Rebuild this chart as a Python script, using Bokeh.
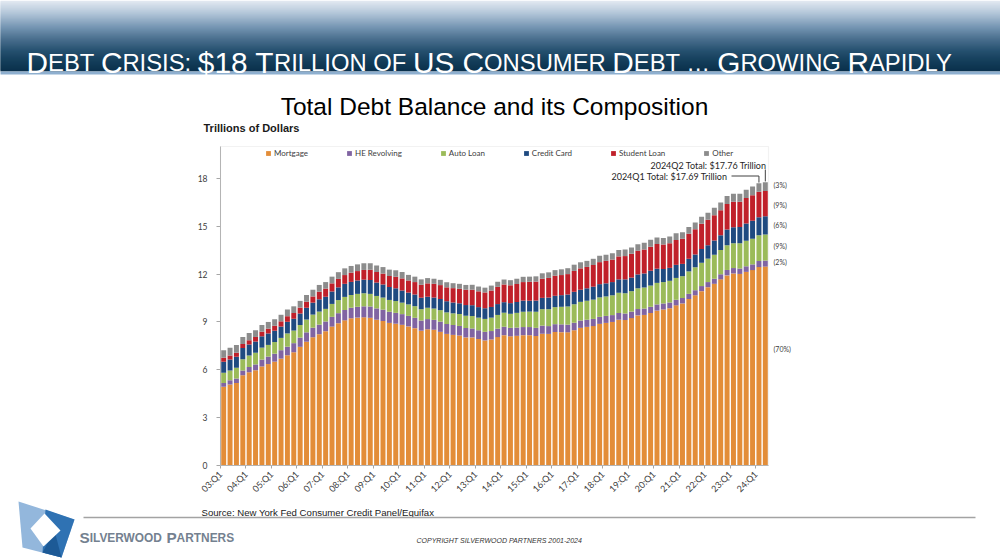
import math
from bokeh.plotting import figure
from bokeh.models import ColumnDataSource, Label, BoxAnnotation, PolyAnnotation, FixedTicker
from bokeh.embed import file_html
from bokeh.resources import INLINE

# ---------------- data (trillions of dollars) ----------------
quarters = [f"{y % 100:02d}:Q{q}" for y in range(2003, 2025) for q in range(1, 5)][:86]

mortgage = [4.94, 5.08, 5.18, 5.66, 5.84, 5.97, 6.21, 6.36, 6.51, 6.70, 6.91, 7.10,
            7.44, 7.76, 8.04, 8.23, 8.42, 8.71, 8.92, 9.10, 9.23, 9.27, 9.29, 9.26,
            9.14, 9.06, 8.94, 8.89, 8.82, 8.72, 8.61, 8.45, 8.54, 8.51, 8.38, 8.25,
            8.19, 8.15, 8.03, 8.03, 7.93, 7.84, 7.90, 8.05, 8.17, 8.10, 8.13, 8.17,
            8.17, 8.12, 8.26, 8.25, 8.37, 8.36, 8.35, 8.48, 8.63, 8.69, 8.74, 8.88,
            8.94, 9.00, 9.14, 9.12, 9.24, 9.41, 9.44, 9.56, 9.71, 9.78, 9.86, 10.04,
            10.16, 10.44, 10.67, 10.93, 11.18, 11.39, 11.67, 11.92, 12.04, 12.01, 12.14, 12.25,
            12.44, 12.47]
he_revolving = [0.24, 0.26, 0.27, 0.30, 0.33, 0.37, 0.43, 0.47, 0.50, 0.53, 0.54, 0.57,
                0.58, 0.59, 0.60, 0.60, 0.61, 0.61, 0.63, 0.65, 0.66, 0.68, 0.69, 0.71,
                0.71, 0.71, 0.70, 0.68, 0.67, 0.66, 0.65, 0.64, 0.64, 0.62, 0.64, 0.62,
                0.62, 0.60, 0.59, 0.56, 0.55, 0.54, 0.53, 0.53, 0.53, 0.53, 0.52, 0.51,
                0.51, 0.51, 0.51, 0.49, 0.49, 0.49, 0.48, 0.47, 0.46, 0.45, 0.45, 0.44,
                0.44, 0.43, 0.42, 0.41, 0.41, 0.40, 0.40, 0.39, 0.39, 0.38, 0.36, 0.35,
                0.34, 0.32, 0.32, 0.32, 0.32, 0.32, 0.32, 0.34, 0.34, 0.34, 0.35, 0.36,
                0.38, 0.38]
auto_loan = [0.64, 0.62, 0.68, 0.70, 0.72, 0.73, 0.75, 0.73, 0.73, 0.77, 0.83, 0.79,
             0.79, 0.80, 0.82, 0.82, 0.79, 0.81, 0.82, 0.82, 0.80, 0.81, 0.82, 0.79,
             0.78, 0.76, 0.74, 0.74, 0.72, 0.72, 0.73, 0.71, 0.71, 0.71, 0.72, 0.73,
             0.73, 0.75, 0.77, 0.78, 0.79, 0.81, 0.84, 0.86, 0.88, 0.88, 0.92, 0.96,
             0.97, 1.01, 1.03, 1.06, 1.07, 1.10, 1.14, 1.16, 1.17, 1.19, 1.21, 1.22,
             1.22, 1.24, 1.27, 1.27, 1.28, 1.30, 1.32, 1.33, 1.35, 1.34, 1.36, 1.37,
             1.37, 1.41, 1.44, 1.46, 1.47, 1.50, 1.52, 1.55, 1.56, 1.58, 1.60, 1.61,
             1.62, 1.63]
credit_card = [0.69, 0.69, 0.69, 0.70, 0.70, 0.70, 0.71, 0.72, 0.71, 0.71, 0.73, 0.74,
               0.72, 0.74, 0.75, 0.77, 0.76, 0.78, 0.80, 0.82, 0.82, 0.84, 0.85, 0.87,
               0.84, 0.82, 0.81, 0.80, 0.76, 0.74, 0.73, 0.72, 0.69, 0.69, 0.70, 0.70,
               0.68, 0.67, 0.67, 0.68, 0.66, 0.67, 0.67, 0.68, 0.66, 0.67, 0.68, 0.70,
               0.68, 0.70, 0.71, 0.73, 0.71, 0.73, 0.75, 0.78, 0.76, 0.78, 0.81, 0.83,
               0.82, 0.83, 0.84, 0.87, 0.85, 0.87, 0.88, 0.93, 0.89, 0.82, 0.81, 0.82,
               0.77, 0.79, 0.80, 0.86, 0.84, 0.89, 0.93, 0.99, 0.99, 1.03, 1.08, 1.13,
               1.12, 1.14]
student_loan = [0.24, 0.24, 0.25, 0.25, 0.26, 0.29, 0.29, 0.30, 0.31, 0.33, 0.35, 0.36,
                0.37, 0.38, 0.39, 0.48, 0.51, 0.51, 0.53, 0.55, 0.58, 0.59, 0.61, 0.64,
                0.66, 0.68, 0.69, 0.72, 0.76, 0.76, 0.78, 0.81, 0.84, 0.86, 0.87, 0.87,
                0.90, 0.91, 0.96, 0.97, 0.99, 0.99, 1.03, 1.08, 1.11, 1.12, 1.13, 1.16,
                1.19, 1.19, 1.20, 1.23, 1.26, 1.26, 1.28, 1.31, 1.34, 1.34, 1.36, 1.38,
                1.41, 1.41, 1.44, 1.46, 1.49, 1.48, 1.50, 1.51, 1.54, 1.54, 1.55, 1.56,
                1.58, 1.57, 1.58, 1.58, 1.59, 1.59, 1.57, 1.60, 1.60, 1.57, 1.60, 1.60,
                1.60, 1.59]
other = [0.48, 0.49, 0.48, 0.45, 0.45, 0.42, 0.42, 0.42, 0.41, 0.41, 0.42, 0.42,
         0.42, 0.42, 0.42, 0.42, 0.41, 0.42, 0.42, 0.42, 0.42, 0.42, 0.42, 0.41,
         0.41, 0.41, 0.40, 0.41, 0.40, 0.35, 0.34, 0.34, 0.33, 0.32, 0.33, 0.32,
         0.31, 0.31, 0.30, 0.31, 0.30, 0.30, 0.31, 0.32, 0.31, 0.32, 0.33, 0.33,
         0.32, 0.33, 0.34, 0.35, 0.35, 0.36, 0.37, 0.39, 0.38, 0.38, 0.39, 0.40,
         0.39, 0.40, 0.40, 0.41, 0.40, 0.41, 0.42, 0.43, 0.42, 0.41, 0.42, 0.42,
         0.41, 0.42, 0.43, 0.45, 0.44, 0.47, 0.48, 0.50, 0.50, 0.51, 0.52, 0.54,
         0.53, 0.55]

series_names = ["Mortgage", "HE Revolving", "Auto Loan", "Credit Card", "Student Loan", "Other"]
share_labels = ["(70%)", "(2%)", "(9%)", "(6%)", "(9%)", "(3%)"]
total_notes = ["2024Q1 Total: $17.69 Trillion", "2024Q2 Total: $17.76 Trillion"]
y_ticks = [0, 3, 6, 9, 12, 15, 18]

colors = ["#E38D38", "#8064A2", "#9BBB59", "#1F4A80", "#C0202A", "#8C8C8C"]

# ---------------- geometry: chart frame occupies px 220..768 x 146..465 of the slide ----------------
n = len(quarters)
Y_TOP = 20.0
PX0, PX1, PY0, PY1 = 220.0, 768.0, 146.0, 465.0
XS = (PX1 - PX0) / n
YS = (PY1 - PY0) / Y_TOP

def xd(xr):
    return (xr - PX0) / XS - 0.5

def yd(yr):
    return (PY1 - yr) / YS

W, H = 1000, 560
p = figure(width=W, height=H, x_range=(xd(0), xd(W)), y_range=(yd(H), yd(0)),
           output_backend="svg", toolbar_location=None, title=None, min_border=0,
           background_fill_color="white", border_fill_color="white")
p.outline_line_color = None
p.xgrid.visible = False
p.ygrid.visible = False

keys = ["mortgage", "he", "auto", "cc", "sl", "other"]
src = ColumnDataSource(dict(x=list(range(n)), mortgage=mortgage, he=he_revolving,
                            auto=auto_loan, cc=credit_card, sl=student_loan, other=other))
p.vbar_stack(keys, x="x", width=0.78, source=src, fill_color=colors, line_color=None,
             legend_label=series_names)

totals = [sum(v) for v in zip(mortgage, he_revolving, auto_loan, credit_card, student_loan, other)]

# plot area border
p.add_layout(BoxAnnotation(left=-0.5, right=n - 0.5, bottom=0, top=Y_TOP, fill_alpha=0,
                           line_color="#d4d4d4", line_width=1.2))

CH = "Lato"
p.yaxis.fixed_location = -0.5
p.yaxis.bounds = (0, Y_TOP)
p.yaxis.ticker = FixedTicker(ticks=y_ticks)
p.yaxis.major_tick_out = 4
p.yaxis.major_tick_in = 0
p.yaxis.minor_tick_out = 0
p.yaxis.minor_tick_in = 0
p.yaxis.axis_line_color = "#a6a6a6"
p.yaxis.major_tick_line_color = "#a6a6a6"
p.yaxis.major_label_text_font = CH
p.yaxis.major_label_text_font_size = "8.5px"
p.yaxis.major_label_text_color = "#404040"
p.yaxis.major_label_standoff = 9

# category-boundary ticks (every 4th quarter), labelled with the Q1 quarter that follows
q1_idx = list(range(0, n, 4))
x_ticks = [i - 0.5 for i in q1_idx]
p.xaxis.fixed_location = 0
p.xaxis.bounds = (-0.5, n - 0.5)
p.xaxis.ticker = FixedTicker(ticks=x_ticks)
p.xaxis.major_label_overrides = {i - 0.5: quarters[i] for i in q1_idx}
p.xaxis.major_label_orientation = math.pi / 4
p.xaxis.major_tick_out = 3
p.xaxis.major_tick_in = 0
p.xaxis.minor_tick_out = 0
p.xaxis.minor_tick_in = 0
p.xaxis.axis_line_color = "#a6a6a6"
p.xaxis.major_tick_line_color = "#a6a6a6"
p.xaxis.major_label_text_font = CH
p.xaxis.major_label_text_font_size = "9px"
p.xaxis.major_label_text_color = "#404040"
p.xaxis.major_label_standoff = 4

lg = p.legend[0]
lg.orientation = "horizontal"
lg.location = (265, 402)
lg.glyph_width = 6
lg.glyph_height = 6
lg.label_text_font = CH
lg.label_text_font_size = "8px"
lg.label_text_color = "#404040"
lg.label_standoff = 3
lg.spacing = 38
lg.padding = 0
lg.margin = 0
lg.label_height = 8
lg.border_line_alpha = 0
lg.background_fill_alpha = 0

# total callouts, with leader lines to the last two bars
p.line(x=[xd(731), n - 2, n - 2], y=[yd(175.5), yd(175.5), totals[-2] + 0.05],
       line_color="#404040", line_width=1)
p.line(x=[n - 1, n - 1], y=[yd(169), totals[-1] + 0.05], line_color="#404040", line_width=1)
p.add_layout(Label(x=xd(727), y=yd(175.5), text=total_notes[0], text_align="right",
                   text_baseline="middle", text_font=CH, text_font_size="9px", text_color="#262626"))
p.add_layout(Label(x=xd(766), y=yd(165), text=total_notes[1], text_align="right",
                   text_baseline="middle", text_font=CH, text_font_size="9px", text_color="#262626"))

# share labels to the right of the plot
share_y = [348, 261, 245, 224, 204, 184]
for t, yr in zip(share_labels, share_y):
    p.add_layout(Label(x=xd(773), y=yd(yr), text=t, text_align="left", text_baseline="middle",
                       text_font=CH, text_font_size="7px", text_color="#404040"))

# ---------------- slide decoration ----------------
def hex2rgb(h):
    return tuple(int(h[i:i + 2], 16) for i in (1, 3, 5))

def grad(yr, stops):
    for (y0, c0), (y1, c1) in zip(stops[:-1], stops[1:]):
        if y0 <= yr <= y1:
            t = (yr - y0) / (y1 - y0)
            a, b = hex2rgb(c0), hex2rgb(c1)
            return "#%02x%02x%02x" % tuple(int(round(a[k] + (b[k] - a[k]) * t)) for k in range(3))
    return stops[-1][1]

stops = [(0, "#e2e9f1"), (12, "#b3c6d9"), (26, "#7696b3"), (38, "#4a6f8e"), (50, "#25506f"),
         (60, "#143e5b"), (70, "#0a304b")]
for yr in range(0, 70):
    p.add_layout(BoxAnnotation(left=xd(-2), right=xd(W + 2), top=yd(yr), bottom=yd(yr + 2),
                               fill_color=grad(yr, stops), fill_alpha=1, line_alpha=0))
p.add_layout(BoxAnnotation(left=xd(-2), right=xd(W + 2), top=yd(71), bottom=yd(74),
                           fill_color="#8eafcf", fill_alpha=1, line_alpha=0))

AW = {" ": 278, "A": 667, "B": 667, "C": 722, "D": 722, "E": 667, "F": 611, "G": 778, "H": 722,
      "I": 278, "J": 500, "K": 667, "L": 556, "M": 833, "N": 722, "O": 778, "P": 667, "Q": 778,
      "R": 722, "S": 667, "T": 611, "U": 722, "V": 667, "W": 944, "X": 667, "Y": 667, "Z": 611,
      ":": 278, "$": 556, "1": 556, "8": 556, "\u2026": 1000, "-": 333}
AWB = dict(AW, L=611, A=722)

def small_caps(parts, x0, base, big, small, color, font="Liberation Sans", style="normal", widths=AW):
    x = x0
    for txt, is_big in parts:
        size = big if is_big else small
        p.add_layout(Label(x=xd(x), y=yd(base), text=txt, text_align="left",
                           text_baseline="alphabetic", text_font=font, text_font_style=style,
                           text_font_size=f"{size}px", text_color=color))
        x += sum(widths.get(c, 556) for c in txt) * size / 1000

header_parts = [("D", 1), ("EBT ", 0), ("C", 1), ("RISIS: ", 0), ("$18 T", 1), ("RILLION OF ", 0),
                ("US C", 1), ("ONSUMER ", 0), ("D", 1), ("EBT \u2026 ", 0), ("G", 1), ("ROWING ", 0),
                ("R", 1), ("APIDLY", 0)]
small_caps(header_parts, 26, 62, 29.8, 23.8, "white")

def text(xr, yr, s, size, color="#1a1a1a", align="left", style="normal", font="Liberation Sans"):
    p.add_layout(Label(x=xd(xr), y=yd(yr), text=s, text_align=align, text_baseline="alphabetic",
                       text_font=font, text_font_size=size, text_font_style=style, text_color=color))

text(494, 106, "Total Debt Balance and its Composition", "24.5px", "#000000", "center")
text(203, 127, "Trillions of Dollars", "11px", "#1a1a1a", style="bold")
text(201, 512, "Source: New York Fed Consumer Credit Panel/Equifax", "9.6px")
p.add_layout(BoxAnnotation(left=xd(83), right=xd(975), top=yd(516.3), bottom=yd(517.8),
                           fill_color="#a3a3a3", fill_alpha=1, line_alpha=0))

# logo
def poly(pts, col):
    p.add_layout(PolyAnnotation(xs=[xd(a) for a, b in pts], ys=[yd(b) for a, b in pts],
                                fill_color=col, fill_alpha=1, line_alpha=0))

poly([(18, 501), (74, 519), (61, 557), (22, 547)], "#93b7dc")
poly([(45, 509), (74, 519), (61, 557), (42, 552)], "#2f72b3")
poly([(54, 530), (61, 557), (42, 552)], "#1d5a96")
poly([(44, 513), (60, 530), (43, 546), (30, 528)], "#ffffff")

small_caps([("S", 1), ("ILVERWOOD ", 0), ("P", 1), ("ARTNERS", 0)], 79, 537, 15.3, 11.9, "#748190",
           style="bold", widths=AWB)
text(416, 539.5, "COPYRIGHT SILVERWOOD PARTNERS 2001-2024", "7px", "#333333", style="italic")

open("out.html", "w").write(file_html(p, INLINE))
